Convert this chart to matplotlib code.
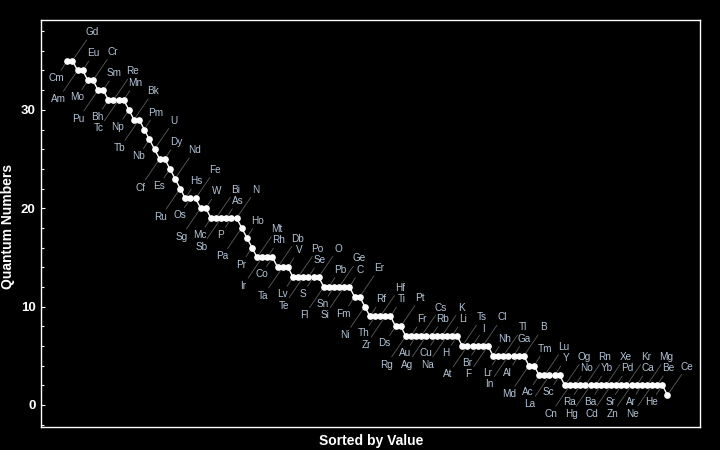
import matplotlib
matplotlib.use('Agg')
import matplotlib.pyplot as plt
import numpy as np
from matplotlib.ticker import MultipleLocator

# elements sorted by value (ties: descending atomic number)
symbols = ['Cm', 'Gd', 'Am', 'Eu', 'Mo', 'Cr', 'Pu', 'Sm', 'Bh', 'Re',
           'Tc', 'Mn', 'Np', 'Bk', 'Tb', 'Pm', 'Nb', 'U', 'Cf', 'Dy',
           'Es', 'Nd', 'Ru', 'Hs', 'Os', 'Fe', 'Sg', 'W', 'Mc', 'Bi',
           'Sb', 'As', 'P', 'N', 'Pa', 'Ho', 'Pr', 'Mt', 'Ir', 'Rh',
           'Co', 'Db', 'Ta', 'V', 'Lv', 'Po', 'Te', 'Se', 'S', 'O',
           'Fl', 'Pb', 'Sn', 'Ge', 'Si', 'C', 'Fm', 'Er', 'Ni', 'Rf',
           'Th', 'Hf', 'Zr', 'Ti', 'Ds', 'Pt', 'Rg', 'Fr', 'Au', 'Cs',
           'Ag', 'Rb', 'Cu', 'K', 'Na', 'Li', 'H', 'Ts', 'At', 'I',
           'Br', 'Cl', 'F', 'Nh', 'Lr', 'Tl', 'In', 'Ga', 'Al', 'B',
           'Md', 'Tm', 'Ac', 'Lu', 'La', 'Y', 'Sc', 'Og', 'Cn', 'No',
           'Ra', 'Rn', 'Hg', 'Yb', 'Ba', 'Xe', 'Cd', 'Pd', 'Sr', 'Kr',
           'Zn', 'Ca', 'Ar', 'Mg', 'Ne', 'Be', 'He', 'Ce']

values = [35, 35, 34, 34, 33, 33, 32, 32, 31, 31,
          31, 31, 30, 29, 29, 28, 27, 26, 25, 25,
          24, 23, 22, 21, 21, 21, 20, 20, 19, 19,
          19, 19, 19, 19, 18, 17, 16, 15, 15, 15,
          15, 14, 14, 14, 13, 13, 13, 13, 13, 13,
          12, 12, 12, 12, 12, 12, 11, 11, 10, 9,
          9, 9, 9, 9, 8, 8, 7, 7, 7, 7,
          7, 7, 7, 7, 7, 7, 7, 6, 6, 6,
          6, 6, 6, 5, 5, 5, 5, 5, 5, 5,
          4, 4, 3, 3, 3, 3, 3, 2, 2, 2,
          2, 2, 2, 2, 2, 2, 2, 2, 2, 2,
          2, 2, 2, 2, 2, 2, 2, 1]

y_major = [0, 10, 20, 30]

plt.rcParams['font.family'] = ['Liberation Sans', 'DejaVu Sans']

fig = plt.figure(figsize=(7.2, 4.5), dpi=100, facecolor='black')
ax = fig.add_axes([41.3 / 720, 1 - 427.3 / 450, 659 / 720, 407 / 450])
ax.set_facecolor('black')

x = np.arange(1, len(values) + 1)
ax.plot(x, values, color='white', lw=1.0, marker='o', ms=3.8,
        mec='white', mfc='white', zorder=5)

# callout offsets (pixels) cycle: below near, above far, below far, above near
offs = [(-11, -17), (19.5, 28.5), (-19.5, -28.5), (11, 17)]
for i, (s, v) in enumerate(zip(symbols, values)):
    dx, dy = offs[i % 4]
    ax.annotate(s, xy=(x[i], v), xytext=(dx, dy), textcoords='offset pixels',
                ha='center', va='center', fontsize=7.2, color='#b3c3d6',
                zorder=3,
                arrowprops=dict(arrowstyle='-', color='#5c5c5c', lw=0.6,
                                shrinkA=0, shrinkB=2.5))

ax.set_xlim(-4.07, 124.4)
ax.set_ylim(-2.27, 39.1)

ax.set_yticks(y_major)
ax.yaxis.set_minor_locator(MultipleLocator(2))
ax.set_yticklabels([str(t) for t in y_major], fontsize=9.5,
                   fontweight='bold', color='white')
ax.tick_params(axis='y', which='major', direction='in', length=3.2,
               width=0.8, color='white', pad=4)
ax.tick_params(axis='y', which='minor', direction='in', length=2.1,
               width=0.8, color='white')
ax.set_xticks([])

for sp in ax.spines.values():
    sp.set_color('white')
    sp.set_linewidth(1.0)

fig.text(8.5 / 720, 0.497, 'Quantum Numbers', rotation=90, ha='center',
         va='center', fontsize=10, fontweight='bold', color='white')
ax.set_xlabel('Sorted by Value', fontsize=10, fontweight='bold',
              color='white', labelpad=5)

plt.savefig('out.png', dpi=100, facecolor='black')
